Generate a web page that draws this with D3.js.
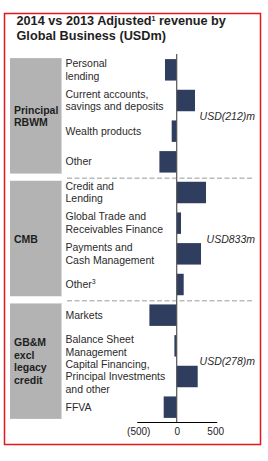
<!DOCTYPE html>
<html>
<head>
<meta charset="utf-8">
<script src="https://cdn.jsdelivr.net/npm/d3@7"></script>
<style>
  body { margin: 0; background: #fff; }
  svg { display: block; font-family: "Liberation Sans", Arial, sans-serif; }
</style>
</head>
<body>
<script>
// rows: label lines, value (USDm), group
var rowLabels = [
    ["Personal", "lending"],
    ["Current accounts,", "savings and deposits"],
    ["Wealth products"],
    ["Other"],
    ["Credit and", "Lending"],
    ["Global Trade and", "Receivables Finance"],
    ["Payments and", "Cash Management"],
    ["Other\u00b3"],
    ["Markets"],
    ["Balance Sheet", "Management"],
    ["Capital Financing,", "Principal Investments", "and other"],
    ["FFVA"]
];
var rowValues = [-152, 238, -65, -225, 381, 56, 316, 91, -355, -30, 273, -169];
var rowGroup = [0, 0, 0, 0, 1, 1, 1, 1, 2, 2, 2, 2];

var groupNames = [["Principal", "RBWM"], ["CMB"], ["GB&M", "excl", "legacy", "credit"]];
var groupTotals = ["USD(212)m", "USD833m", "USD(278)m"];

var tickValues = [-500, 0, 500];
var tickLabels = ["(500)", "0", "500"];

var width = 268, height = 461;
var barColor = "#2f3d5f";

var svg = d3.select("body").append("svg")
    .attr("width", width)
    .attr("height", height);

// red frame
svg.append("rect")
    .attr("x", 4.5).attr("y", 13.5)
    .attr("width", 256).attr("height", 431)
    .attr("fill", "none")
    .attr("stroke", "#e8141b")
    .attr("stroke-width", 1.5);

// title
var title = svg.append("text")
    .attr("x", 16.5).attr("y", 25)
    .attr("font-size", "12.7px")
    .attr("font-weight", "bold")
    .attr("fill", "#1e1e1e");
title.append("tspan").text("2014 vs 2013 Adjusted");
title.append("tspan").attr("font-size", "7px").attr("dy", -4).text("1");
title.append("tspan").attr("dy", 4).text(" revenue by");
svg.append("text")
    .attr("x", 16.5).attr("y", 39.5)
    .attr("font-size", "12.7px")
    .attr("font-weight", "bold")
    .attr("fill", "#1e1e1e")
    .text("Global Business (USDm)");

var idx = d3.range(rowValues.length);

var y = d3.scaleBand()
    .domain(idx)
    .range([54.5, 422.5])
    .paddingInner(0.3)
    .paddingOuter(0.15);

var x = d3.scaleLinear()
    .domain([-520, 520])
    .range([136.7, 216.7]);

// group boxes
groupNames.forEach(function (g, gi) {
    var rows = idx.filter(function (i) { return rowGroup[i] === gi; });
    var top = y(rows[0]) - 1, bottom = y(rows[rows.length - 1]) + y.bandwidth() + 1;
    svg.append("rect")
        .attr("x", 10).attr("y", top)
        .attr("width", 52).attr("height", bottom - top)
        .attr("fill", "#b3b3b3");
    svg.append("line")
        .attr("x1", 61.5).attr("x2", 61.5)
        .attr("y1", top).attr("y2", bottom)
        .attr("stroke", "#d6d6d6");

    var cy = (top + bottom) / 2, lh = 12.5;
    var t = svg.append("text")
        .attr("font-size", "10.5px")
        .attr("font-weight", "bold")
        .attr("fill", "#1e1e1e");
    g.forEach(function (line, li) {
        t.append("tspan")
            .attr("x", 14)
            .attr("y", cy + 4 + (li - (g.length - 1) / 2) * lh)
            .text(line);
    });

    svg.append("text")
        .attr("x", 255)
        .attr("y", cy + 4)
        .attr("text-anchor", "end")
        .attr("font-size", "10.5px")
        .attr("font-style", "italic")
        .attr("fill", "#2a2a2a")
        .text(groupTotals[gi]);

    // dashed separator below the group
    if (gi < groupNames.length - 1) {
        var sep = y(rows[rows.length - 1]) + y.step() - y.step() * y.paddingInner() / 2 + 1;
        svg.append("line")
            .attr("x1", 67).attr("x2", 252)
            .attr("y1", sep).attr("y2", sep)
            .attr("stroke", "#9a9a9a")
            .attr("stroke-dasharray", "5,2.5");
    }
});

// row labels
idx.forEach(function (i) {
    var lines = rowLabels[i];
    var cy = y(i) + y.bandwidth() / 2, lh = 12.5;
    var t = svg.append("text")
        .attr("font-size", "10.5px")
        .attr("fill", "#2a2a2a");
    lines.forEach(function (line, li) {
        var sup = line.indexOf("\u00b3");
        var ts = t.append("tspan")
            .attr("x", 65.5)
            .attr("y", cy + 3.5 + (li - (lines.length - 1) / 2) * lh);
        if (sup >= 0) {
            ts.text(line.slice(0, sup));
            t.append("tspan").attr("font-size", "7px").attr("dy", -4).text("3");
        } else {
            ts.text(line);
        }
    });
});

// bars
svg.selectAll(".bar")
    .data(rowValues)
    .enter().append("rect")
    .attr("class", "bar")
    .attr("x", function (d) { return x(Math.min(0, d)); })
    .attr("y", function (d, i) { return y(i); })
    .attr("width", function (d) { return Math.abs(x(d) - x(0)); })
    .attr("height", y.bandwidth())
    .attr("fill", barColor);

// zero line
svg.append("line")
    .attr("x1", x(0)).attr("x2", x(0))
    .attr("y1", 54).attr("y2", 422)
    .attr("stroke", "#555")
    .attr("stroke-width", 1.2);

// x axis
var axis = svg.append("g")
    .attr("transform", "translate(0,422)")
    .call(d3.axisBottom(x)
        .tickValues(tickValues)
        .tickSize(0)
        .tickPadding(6)
        .tickFormat(function (d, i) { return tickLabels[i]; }));
axis.select(".domain").attr("stroke", "#000").attr("stroke-width", 1.2);
axis.selectAll("text")
    .attr("font-family", "Liberation Sans, Arial, sans-serif")
    .attr("font-size", "10px")
    .attr("fill", "#222");
</script>
</body>
</html>
